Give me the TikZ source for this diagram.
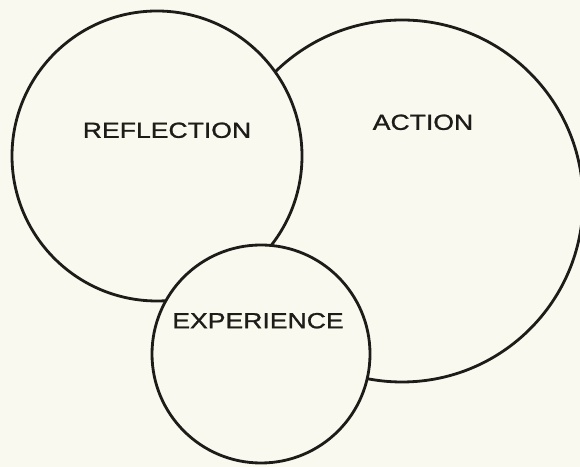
\documentclass[tikz,border=0pt]{standalone}
\usepackage{fontspec}
\usepackage{xcolor}
\newfontfamily\cyclefont[FakeStretch=1.22, FakeBold=1.2]{Liberation Sans}
\definecolor{paper}{RGB}{249,249,240}
\definecolor{ink}{RGB}{30,28,24}
\tikzset{
    ring/.style={circle, draw=ink, line width=2pt, fill=paper, inner sep=0pt},
    stage/.style={font=\cyclefont\fontsize{15.5}{18}\selectfont, text=ink, anchor=base, inner sep=0pt}
}
\begin{document}
\begin{tikzpicture}
% Page
\fill[paper] (0,0) rectangle (14.5,11.675);
\useasboundingbox (0,0) rectangle (14.5,11.675);

% Circles (back to front)
\node[ring, minimum size=9.05cm] (action) at (10.05,6.65) {};
\node[ring, minimum size=7.25cm] (reflection) at (3.925,7.775) {};
\node[ring, minimum size=5.45cm] (experience) at (6.525,2.825) {};

% Labels
\node[stage] (lblreflection) at (4.175,8.23) {REFLECTION};
\node[stage] (lblaction) at (10.575,8.43) {ACTION};
\node[stage] (lblexperience) at (6.45,3.47) {EXPERIENCE};
\end{tikzpicture}
\end{document}
